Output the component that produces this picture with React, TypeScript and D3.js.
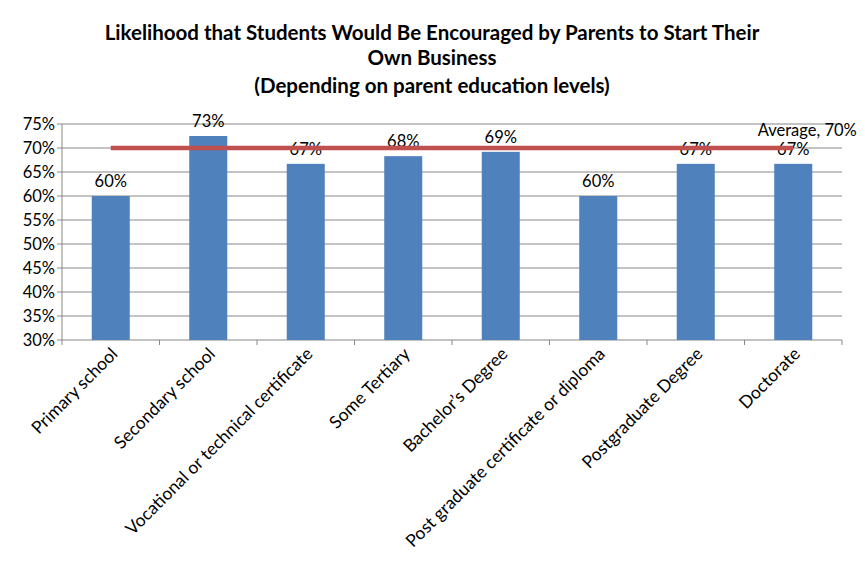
import { useEffect, useRef } from 'react';
import * as d3 from 'd3';

const categories = [
  'Primary school',
  'Secondary school',
  'Vocational or technical certificate',
  'Some Tertiary',
  'Bachelor\u2019s Degree',
  'Post graduate certificate or diploma',
  'Postgraduate Degree',
  'Doctorate',
];
const values = [0.60, 0.725, 0.667, 0.683, 0.692, 0.60, 0.667, 0.667];
const average = [0.70, 0.70, 0.70, 0.70, 0.70, 0.70, 0.70, 0.70];
const yTicks = [0.30, 0.35, 0.40, 0.45, 0.50, 0.55, 0.60, 0.65, 0.70, 0.75];
const titleLines = [
  'Likelihood that Students Would Be Encouraged by Parents to Start Their',
  'Own Business',
  '(Depending on parent education levels)',
];

export default function App() {
  const svgRef = useRef<SVGSVGElement>(null);

  useEffect(() => {
    if (!svgRef.current) return;
    const svg = d3.select(svgRef.current);
    svg.selectAll('*').remove();

    const width = 865;
    const height = 572;
    const font = 'Lato, "Open Sans", sans-serif';
    const left = 62, right = 842, top = 124, bottom = 340;

    svg.append('rect').attr('width', width).attr('height', height).attr('fill', '#fff');

    // Title
    const titleY = [40, 65, 93];
    titleLines.forEach((t, i) => {
      svg.append('text')
        .attr('x', 432)
        .attr('y', titleY[i])
        .attr('text-anchor', 'middle')
        .attr('font-family', font)
        .attr('font-weight', 'bold')
        .attr('font-size', '20.5px')
        .attr('fill', '#000')
        .text(t);
    });

    const x = d3.scaleBand<string>()
      .domain(categories)
      .range([left, right])
      .paddingInner(0.61)
      .paddingOuter(0.305);

    const y = d3.scaleLinear()
      .domain([0.30, 0.75])
      .range([bottom, top]);

    const fmt = d3.format('.0%');

    // Gridlines
    svg.append('g')
      .selectAll('line')
      .data(yTicks.slice(1))
      .join('line')
      .attr('x1', left)
      .attr('x2', right)
      .attr('y1', (d) => y(d))
      .attr('y2', (d) => y(d))
      .attr('stroke', '#878787')
      .attr('stroke-width', 1);

    // Y axis
    const yAxis = svg.append('g');
    yAxis.append('line')
      .attr('x1', left).attr('x2', left)
      .attr('y1', top).attr('y2', bottom)
      .attr('stroke', '#878787');
    yAxis.selectAll('line.tick')
      .data(yTicks)
      .join('line')
      .attr('class', 'tick')
      .attr('x1', left - 5).attr('x2', left)
      .attr('y1', (d) => y(d)).attr('y2', (d) => y(d))
      .attr('stroke', '#878787');
    yAxis.selectAll('text')
      .data(yTicks)
      .join('text')
      .attr('x', left - 7)
      .attr('y', (d) => y(d))
      .attr('dy', '0.35em')
      .attr('text-anchor', 'end')
      .attr('font-family', font)
      .attr('font-size', '16.5px')
      .attr('fill', '#000')
      .text((d) => fmt(d));

    // X axis
    const step = x.step();
    const xAxis = svg.append('g');
    xAxis.append('line')
      .attr('x1', left).attr('x2', right)
      .attr('y1', bottom).attr('y2', bottom)
      .attr('stroke', '#878787');
    xAxis.selectAll('line.tick')
      .data(d3.range(categories.length + 1))
      .join('line')
      .attr('class', 'tick')
      .attr('x1', (i) => left + i * step)
      .attr('x2', (i) => left + i * step)
      .attr('y1', bottom).attr('y2', bottom + 5)
      .attr('stroke', '#878787');
    xAxis.selectAll('text')
      .data(categories)
      .join('text')
      .attr('transform', (d) => `translate(${(x(d) ?? 0) + x.bandwidth() / 2 + 8},${bottom + 15}) rotate(-45)`)
      .attr('text-anchor', 'end')
      .attr('font-family', font)
      .attr('font-size', '17.5px')
      .attr('fill', '#000')
      .text((d) => d);

    // Bars
    svg.append('g')
      .selectAll('rect')
      .data(values)
      .join('rect')
      .attr('x', (_, i) => x(categories[i]) ?? 0)
      .attr('y', (d) => y(d))
      .attr('width', x.bandwidth())
      .attr('height', (d) => bottom - y(d))
      .attr('fill', '#4F81BD');

    // Bar labels
    svg.append('g')
      .selectAll('text')
      .data(values)
      .join('text')
      .attr('x', (_, i) => (x(categories[i]) ?? 0) + x.bandwidth() / 2)
      .attr('y', (d) => y(d) - 9)
      .attr('text-anchor', 'middle')
      .attr('font-family', font)
      .attr('font-size', '16.5px')
      .attr('fill', '#000')
      .text((d) => fmt(d));

    // Average line
    const line = d3.line<number>()
      .x((_, i) => (x(categories[i]) ?? 0) + x.bandwidth() / 2)
      .y((d) => y(d));
    svg.append('path')
      .datum(average)
      .attr('d', line)
      .attr('fill', 'none')
      .attr('stroke', '#C0504D')
      .attr('stroke-width', 4.5);

    const last = categories.length - 1;
    svg.append('text')
      .attr('x', (x(categories[last]) ?? 0) + x.bandwidth() / 2 + 14)
      .attr('y', y(average[last]) - 12)
      .attr('text-anchor', 'middle')
      .attr('font-family', font)
      .attr('font-size', '16.5px')
      .attr('fill', '#000')
      .text(`Average, ${fmt(average[last])}`);
  }, []);

  return <svg ref={svgRef} width={865} height={572} style={{ display: 'block', position: 'absolute', left: 0, top: 0 }} />;
}
